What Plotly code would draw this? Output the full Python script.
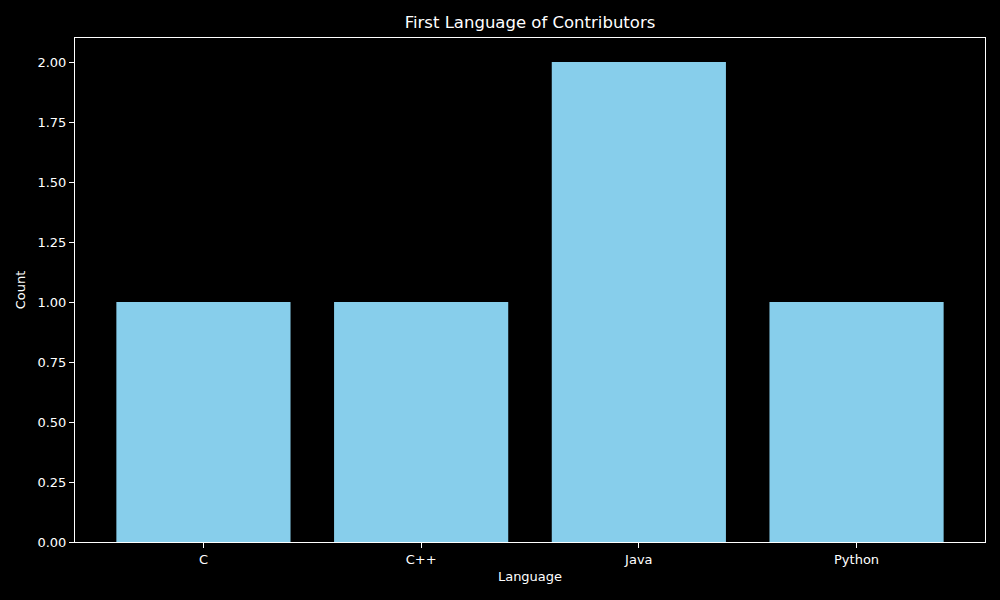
import plotly.graph_objects as go

languages = ["C", "C++", "Java", "Python"]
counts = [1, 1, 2, 1]
y_ticks = [0.0, 0.25, 0.5, 0.75, 1.0, 1.25, 1.5, 1.75, 2.0]

fig = go.Figure(go.Bar(x=languages, y=counts, marker_color="#87ceeb", marker_line_width=0, width=0.8))

font = dict(family="DejaVu Sans", size=13, color="white")
fig.update_layout(
    width=1000, height=600,
    paper_bgcolor="black", plot_bgcolor="black",
    margin=dict(l=75, r=15, t=38, b=58),
    font=font,
    title=dict(text="First Language of Contributors", x=(75 + 985) / 2 / 1000, xanchor="center",
               y=1 - 22 / 600, yanchor="middle", font=dict(family="DejaVu Sans", size=16.5, color="white")),
    showlegend=False,
)
fig.update_xaxes(type="category", range=[-0.59, 3.59], showgrid=False, zeroline=False,
                 showline=True, linecolor="white", linewidth=1, mirror=True,
                 ticks="outside", ticklen=5, tickcolor="white",
                 title=dict(text="Language", standoff=6, font=font))
fig.update_yaxes(range=[0, 2.1], showgrid=False, zeroline=False,
                 showline=True, linecolor="white", linewidth=1, mirror=True,
                 ticks="outside", ticklen=5, tickcolor="white",
                 tickvals=y_ticks, tickformat=".2f",
                 title=dict(text="Count", standoff=8, font=font))
fig.write_html("out.html", config={"displayModeBar": False},
               post_script="document.body.style.margin='0';document.body.style.background='black';")
